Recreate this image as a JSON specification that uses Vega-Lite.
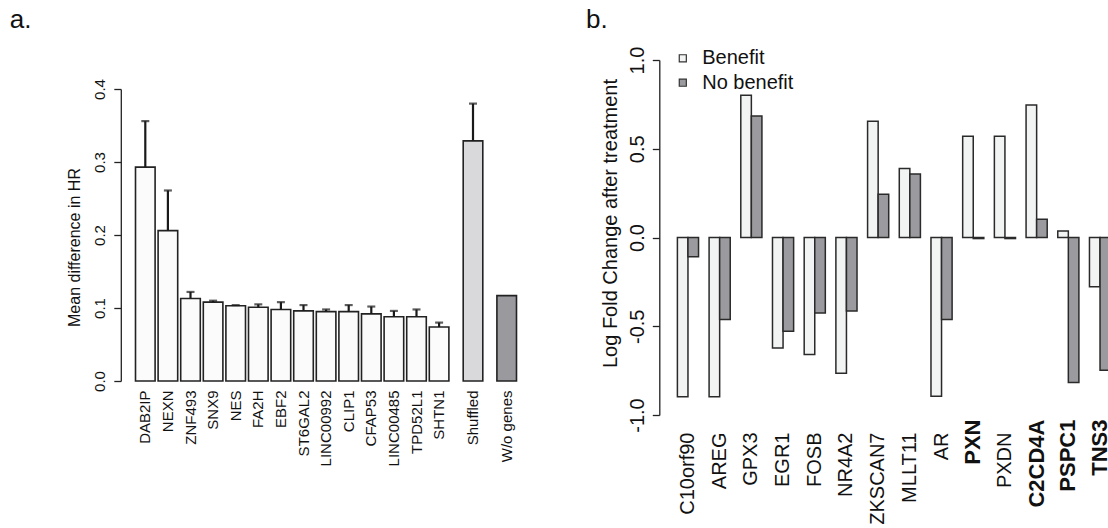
{
  "$schema": "https://vega.github.io/schema/vega-lite/v6.json",
  "background": "white",
  "padding": {"left": 9, "top": 7, "right": 0, "bottom": 0},
  "spacing": 67.3,
  "resolve": {"scale": {"fill": "independent", "y": "independent"}},
  "config": {
    "font": "Liberation Sans",
    "view": {"stroke": null},
    "axis": {
      "grid": false,
      "domainColor": "#222222",
      "tickColor": "#222222",
      "labelColor": "#111111",
      "titleColor": "#111111",
      "titleFontWeight": "normal",
      "labelOverlap": false
    },
    "title": {"font": "Liberation Sans", "fontWeight": "normal", "color": "#111111"}
  },
  "datasets": {
    "hr": [
      {"label": "DAB2IP", "set": "gene", "value": 0.293, "upper": 0.356},
      {"label": "NEXN", "set": "gene", "value": 0.206, "upper": 0.261},
      {"label": "ZNF493", "set": "gene", "value": 0.113, "upper": 0.122},
      {"label": "SNX9", "set": "gene", "value": 0.108, "upper": 0.110},
      {"label": "NES", "set": "gene", "value": 0.103, "upper": 0.104},
      {"label": "FA2H", "set": "gene", "value": 0.101, "upper": 0.105},
      {"label": "EBF2", "set": "gene", "value": 0.098, "upper": 0.108},
      {"label": "ST6GAL2", "set": "gene", "value": 0.096, "upper": 0.104},
      {"label": "LINC00992", "set": "gene", "value": 0.095, "upper": 0.098},
      {"label": "CLIP1", "set": "gene", "value": 0.095, "upper": 0.104},
      {"label": "CFAP53", "set": "gene", "value": 0.092, "upper": 0.102},
      {"label": "LINC00485", "set": "gene", "value": 0.088, "upper": 0.096},
      {"label": "TPD52L1", "set": "gene", "value": 0.088, "upper": 0.098},
      {"label": "SHTN1", "set": "gene", "value": 0.074, "upper": 0.080},
      {"label": "Shuffled", "set": "shuffled", "value": 0.329, "upper": 0.380},
      {"label": "W/o genes", "set": "none", "value": 0.117, "upper": null}
    ],
    "lfc": [
      {"gene": "C10orf90", "status": "Benefit", "lfc": -0.897},
      {"gene": "C10orf90", "status": "No benefit", "lfc": -0.109},
      {"gene": "AREG", "status": "Benefit", "lfc": -0.897},
      {"gene": "AREG", "status": "No benefit", "lfc": -0.462},
      {"gene": "GPX3", "status": "Benefit", "lfc": 0.802},
      {"gene": "GPX3", "status": "No benefit", "lfc": 0.685},
      {"gene": "EGR1", "status": "Benefit", "lfc": -0.622},
      {"gene": "EGR1", "status": "No benefit", "lfc": -0.528},
      {"gene": "FOSB", "status": "Benefit", "lfc": -0.659},
      {"gene": "FOSB", "status": "No benefit", "lfc": -0.425},
      {"gene": "NR4A2", "status": "Benefit", "lfc": -0.765},
      {"gene": "NR4A2", "status": "No benefit", "lfc": -0.414},
      {"gene": "ZKSCAN7", "status": "Benefit", "lfc": 0.655},
      {"gene": "ZKSCAN7", "status": "No benefit", "lfc": 0.244},
      {"gene": "MLLT11", "status": "Benefit", "lfc": 0.389},
      {"gene": "MLLT11", "status": "No benefit", "lfc": 0.358},
      {"gene": "AR", "status": "Benefit", "lfc": -0.894},
      {"gene": "AR", "status": "No benefit", "lfc": -0.462},
      {"gene": "PXN", "status": "Benefit", "lfc": 0.571},
      {"gene": "PXN", "status": "No benefit", "lfc": -0.006},
      {"gene": "PXDN", "status": "Benefit", "lfc": 0.571},
      {"gene": "PXDN", "status": "No benefit", "lfc": -0.006},
      {"gene": "C2CD4A", "status": "Benefit", "lfc": 0.747},
      {"gene": "C2CD4A", "status": "No benefit", "lfc": 0.103},
      {"gene": "PSPC1", "status": "Benefit", "lfc": 0.037},
      {"gene": "PSPC1", "status": "No benefit", "lfc": -0.817},
      {"gene": "TNS3", "status": "Benefit", "lfc": -0.278},
      {"gene": "TNS3", "status": "No benefit", "lfc": -0.748}
    ]
  },
  "hconcat": [
    {
      "spacing": 10.7,
      "hconcat": [
        {
          "data": {"name": "hr"},
          "transform": [{"filter": "datum.set === 'gene'"}],
          "width": 316.4,
          "height": 355,
          "title": {"text": "a.", "anchor": "start", "frame": "group", "dx": -124.2, "offset": 27, "fontSize": 26, "baseline": "top"},
          "encoding": {
            "x": {
              "field": "label", "type": "nominal", "sort": null,
              "scale": {"paddingInner": 0.133, "paddingOuter": 0.0665},
              "axis": {"title": null, "domain": false, "ticks": false, "tickSize": 0, "offset": -34, "labelAngle": -90, "labelAlign": "right", "labelBaseline": "middle", "labelPadding": 9, "labelFontSize": 15}
            }
          },
          "layer": [
            {
              "mark": {"type": "bar", "stroke": "#222222", "strokeWidth": 1.6},
              "encoding": {
                "y": {
                  "field": "value", "type": "quantitative", "scale": {"domain": [0, 0.4], "range": [321, 29]},
                  "axis": {"title": "Mean difference in HR", "values": [0, 0.1, 0.2, 0.3, 0.4], "format": ".1f", "offset": 13.2, "tickSize": 7, "tickWidth": 1.3, "domainWidth": 1.3, "labelAngle": -90, "labelAlign": "center", "labelBaseline": "bottom", "labelPadding": 6, "labelFontSize": 15, "titleFontSize": 16, "titlePadding": 10, "titleY": 187}
                },
                "fill": {"field": "set", "type": "nominal", "scale": {"domain": ["gene", "shuffled", "none"], "range": ["#fbfbfb", "#d9d9db", "#9a9a9e"]}, "legend": null}
              }
            },
            {
              "mark": {"type": "rule", "color": "#1a1a1a", "strokeWidth": 2.2},
              "encoding": {"y": {"field": "value", "type": "quantitative"}, "y2": {"field": "upper"}}
            },
            {
              "mark": {"type": "tick", "color": "#1a1a1a", "thickness": 2.2, "size": 8},
              "encoding": {"y": {"field": "upper", "type": "quantitative"}}
            }
          ]
        },
        {
          "data": {"name": "hr"},
          "transform": [{"filter": "datum.set === 'shuffled'"}],
          "width": 22.6,
          "height": 355,
          "encoding": {
            "x": {
              "field": "label", "type": "nominal", "sort": null,
              "scale": {"paddingInner": 0.133, "paddingOuter": 0.0665},
              "axis": {"title": null, "domain": false, "ticks": false, "tickSize": 0, "offset": -34, "labelAngle": -90, "labelAlign": "right", "labelBaseline": "middle", "labelPadding": 9, "labelFontSize": 15}
            }
          },
          "layer": [
            {
              "mark": {"type": "bar", "stroke": "#222222", "strokeWidth": 1.6},
              "encoding": {
                "y": {"field": "value", "type": "quantitative", "scale": {"domain": [0, 0.4], "range": [321, 29]}, "axis": null},
                "fill": {"field": "set", "type": "nominal", "scale": {"domain": ["gene", "shuffled", "none"], "range": ["#fbfbfb", "#d9d9db", "#9a9a9e"]}, "legend": null}
              }
            },
            {
              "mark": {"type": "rule", "color": "#1a1a1a", "strokeWidth": 2.2},
              "encoding": {"y": {"field": "value", "type": "quantitative"}, "y2": {"field": "upper"}}
            },
            {
              "mark": {"type": "tick", "color": "#1a1a1a", "thickness": 2.2, "size": 8},
              "encoding": {"y": {"field": "upper", "type": "quantitative"}}
            }
          ]
        },
        {
          "data": {"name": "hr"},
          "transform": [{"filter": "datum.set === 'none'"}],
          "width": 22.6,
          "height": 355,
          "mark": {"type": "bar", "stroke": "#222222", "strokeWidth": 1.6},
          "encoding": {
            "x": {
              "field": "label", "type": "nominal", "sort": null,
              "scale": {"paddingInner": 0.133, "paddingOuter": 0.0665},
              "axis": {"title": null, "domain": false, "ticks": false, "tickSize": 0, "offset": -34, "labelAngle": -90, "labelAlign": "right", "labelBaseline": "middle", "labelPadding": 9, "labelFontSize": 15}
            },
            "y": {"field": "value", "type": "quantitative", "scale": {"domain": [0, 0.4], "range": [321, 29]}, "axis": null},
            "fill": {"field": "set", "type": "nominal", "scale": {"domain": ["gene", "shuffled", "none"], "range": ["#fbfbfb", "#d9d9db", "#9a9a9e"]}, "legend": null}
          }
        }
      ]
    },
    {
      "hconcat": [
        {
          "data": {"name": "lfc"},
          "width": 451.3,
          "height": 355,
          "title": {"text": "b.", "anchor": "start", "frame": "group", "dx": -73.2, "offset": 13, "fontSize": 26, "baseline": "top"},
          "mark": {"type": "bar", "stroke": "#2a2a2a", "strokeWidth": 1.5},
          "encoding": {
            "x": {
              "field": "gene", "type": "nominal", "sort": null,
              "scale": {"paddingInner": 0.3333, "paddingOuter": 0.2855, "align": 1},
              "axis": {
                "title": null, "domain": false, "ticks": false, "tickSize": 0,
                "labelAngle": -90, "labelAlign": "right", "labelBaseline": "middle",
                "labelPadding": {"condition": {"test": "indexof(['PXN','C2CD4A','PSPC1','TNS3'], datum.value) >= 0", "value": 4}, "value": 17},
                "labelFontSize": {"condition": {"test": "indexof(['PXN','C2CD4A','PSPC1','TNS3'], datum.value) >= 0", "value": 22}, "value": 20},
                "labelFontWeight": {"condition": {"test": "indexof(['PXN','C2CD4A','PSPC1','TNS3'], datum.value) >= 0", "value": "bold"}, "value": "normal"}
              }
            },
            "xOffset": {"field": "status", "type": "nominal", "sort": ["Benefit", "No benefit"], "scale": {"paddingInner": 0, "paddingOuter": 0}},
            "y": {
              "field": "lfc", "type": "quantitative", "scale": {"domain": [-1, 1]},
              "axis": {"title": "Log Fold Change after treatment", "values": [-1, -0.5, 0, 0.5, 1], "labelExpr": "replace(format(datum.value, '.1f'), '\u2212', '-')", "tickSize": 7, "tickWidth": 1.3, "domainWidth": 1.3, "labelAngle": -90, "labelAlign": "center", "labelBaseline": "bottom", "labelPadding": 5, "labelFontSize": 20, "titleFontSize": 20, "titlePadding": 7, "titleY": 163}
            },
            "fill": {
              "field": "status", "type": "nominal",
              "scale": {"domain": ["Benefit", "No benefit"], "range": ["#f2f3f3", "#9b9b9f"]},
              "legend": {"title": null, "orient": "none", "legendX": 13.5, "legendY": -11.7, "padding": 0, "symbolType": "square", "symbolSize": 50, "symbolStrokeColor": "#333333", "symbolStrokeWidth": 1.2, "labelFontSize": 20, "labelColor": "#111111", "labelOffset": 9.4, "rowPadding": 4.4}
            }
          }
        }
      ]
    }
  ]
}
